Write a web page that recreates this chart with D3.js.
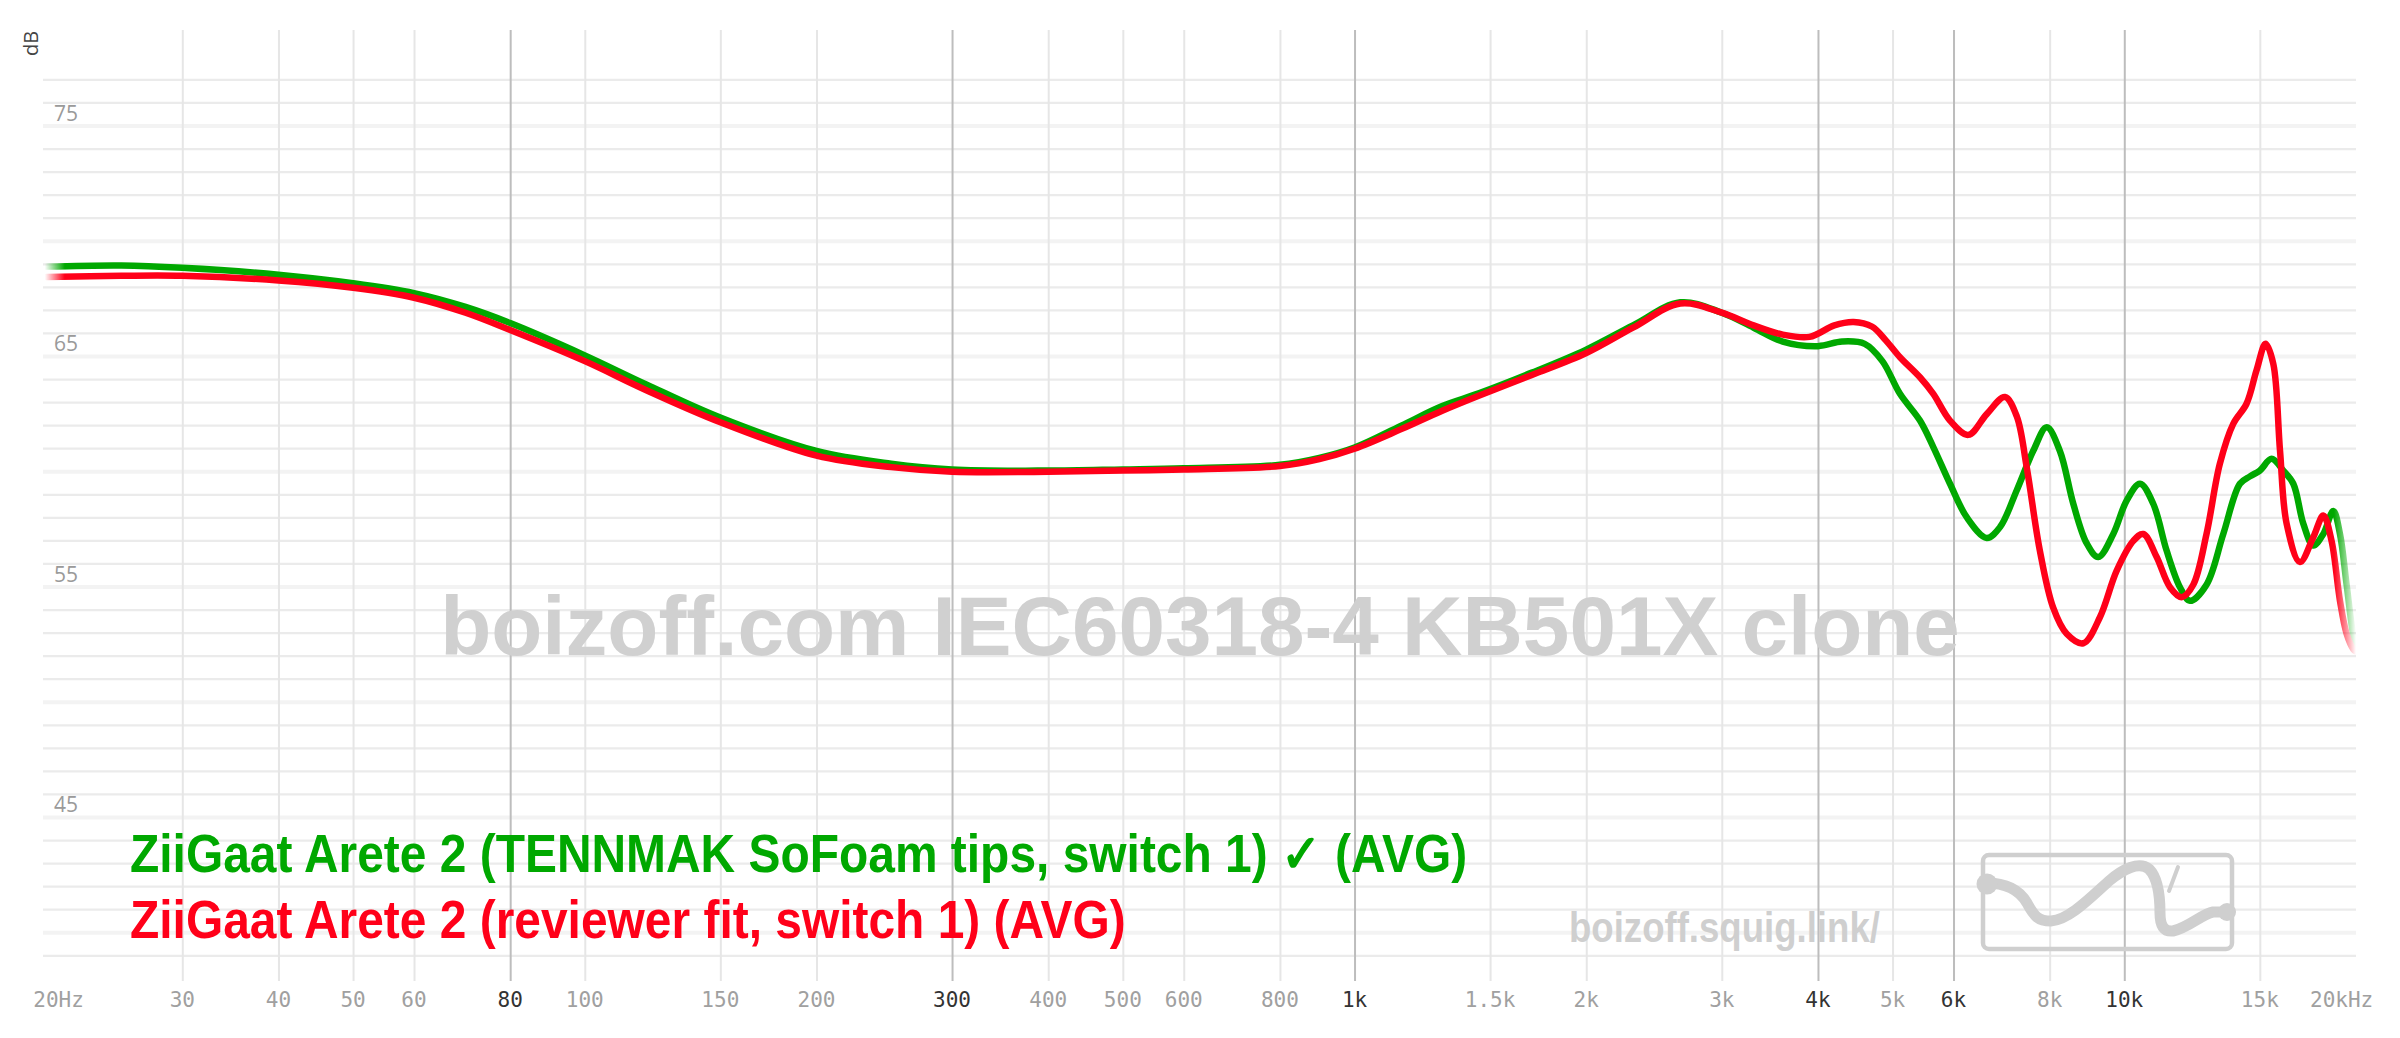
<!DOCTYPE html>
<html><head><meta charset="utf-8">
<script src="https://cdn.jsdelivr.net/npm/d3@7"></script>
<style>html,body{margin:0;padding:0;background:#fff;overflow:hidden}svg{display:block}</style>
</head><body>
<svg id="chart" width="2400" height="1038"></svg>
<script>
// ---------- data ----------
const seriesNames = [
  "ZiiGaat Arete 2 (TENNMAK SoFoam tips, switch 1) \u2713 (AVG)",
  "ZiiGaat Arete 2 (reviewer fit, switch 1) (AVG)"
];
const seriesColors = ["#00a800", "#ff0019"];

const freqGreen = [20,25,30,40,50,60,70,80,100,120,150,200,250,300,400,500,600,800,900,1000,1150,1300,1450,1700,2000,2300,2650,3000,3300,3600,4000,4300,4600,4850,5112,5427,5648,5937,6241,6627,6896,7250,7619,7930,8248,8587,8935,9251,9676,10071,10481,10908,11350,11813,12171,12789,13446,14132,14563,15000,15536,16090,16580,17083,17602,18137,18686,19064,19447,19841,20000];
const dbGreen = [68.9,68.95,68.85,68.55,68.18,67.75,67.15,66.45,65.05,63.8,62.35,60.9,60.35,60.1,60.05,60.1,60.15,60.3,60.6,61.05,62.0,62.85,63.4,64.3,65.3,66.35,67.35,66.9,66.25,65.65,65.45,65.65,65.55,64.8,63.38,62.22,61.07,59.48,58.03,57.13,57.6,59.2,60.92,61.93,60.9,58.6,56.9,56.3,57.3,58.75,59.48,58.6,56.58,54.99,54.4,55.1,57.3,59.48,59.8,60.05,60.56,60.05,59.48,57.75,56.8,57.3,58.3,57.3,55.1,52.9,52.5];

const freqRed = [20,25,30,40,50,60,70,80,100,120,150,200,250,300,400,500,600,800,900,1000,1150,1300,1450,1700,2000,2300,2650,3000,3300,3600,3900,4200,4450,4700,4900,5112,5427,5648,5937,6271,6627,6998,7250,7468,7768,8084,8417,8846,9300,9773,10274,10586,11017,11465,11873,12291,12789,13308,13852,14415,14853,15260,15617,15933,16254,16915,17602,18137,18592,19064,19447,19841,20000];
const dbRed = [68.45,68.5,68.5,68.3,67.98,67.55,66.9,66.15,64.8,63.55,62.15,60.7,60.2,60.0,60.0,60.05,60.1,60.25,60.55,61.0,61.85,62.65,63.3,64.2,65.15,66.25,67.3,66.9,66.35,65.95,65.85,66.35,66.5,66.3,65.7,64.97,64.1,63.38,62.22,61.6,62.5,63.24,62.4,60.2,56.58,54.1,52.97,52.56,53.7,55.7,57.0,57.3,56.3,54.99,54.56,55.1,57.3,60.34,62.08,62.95,64.4,65.55,64.68,60.92,57.74,56.08,57.16,58.1,57.0,54.4,52.97,52.3,52.2];

const xTicks = [20,30,40,50,60,80,100,150,200,300,400,500,600,800,1000,1500,2000,3000,4000,5000,6000,8000,10000,15000,20000];
const xTickLabels = ["20Hz","30","40","50","60","80","100","150","200","300","400","500","600","800","1k","1.5k","2k","3k","4k","5k","6k","8k","10k","15k","20kHz"];
const darkTicks = [80,300,1000,4000,6000,10000];
const yTickLabels = [75,65,55,45];
const yDomain = [39,77];
const watermark = "boizoff.com IEC60318-4 KB501X clone";
const siteLabel = "boizoff.squig.link/";

// ---------- layout ----------
const svg = d3.select("#chart");
const x = d3.scaleLog().domain([20,20000]).range([46.75,2356]);
const y = d3.scaleLinear().domain(yDomain).range([955.8,79.9]);
const gridLeft = 43, gridRight = 2356;

// horizontal grid
svg.append("g").selectAll("line").data(d3.range(yDomain[0], yDomain[1]+1)).join("line")
  .attr("x1", gridLeft).attr("x2", gridRight)
  .attr("y1", d=>y(d)).attr("y2", d=>y(d))
  .attr("stroke", d=> d%5===0 ? "#f3f3f3" : "#ebebeb")
  .attr("stroke-width", d=> d%5===0 ? 4 : 2.2);

// vertical grid via axis
const xAxis = d3.axisBottom(x).tickValues(xTicks.slice(1,-1)).tickSize(951).tickFormat("");
const xg = svg.append("g").attr("transform","translate(0,30)").call(xAxis);
xg.select(".domain").remove();
xg.selectAll(".tick line")
  .attr("stroke", d=> darkTicks.includes(d) ? "#bdbdbd" : "#e6e6e6")
  .attr("stroke-width", 2);

// x tick labels
const xl = svg.append("g").attr("font-family","'DejaVu Sans Mono', monospace").attr("font-size",21);
xl.selectAll("text").data(xTicks).join("text")
  .attr("x", (d,i)=> i===0 ? x(d)-13.5 : (i===xTicks.length-1 ? x(d)-46 : x(d)))
  .attr("y", 1007)
  .attr("text-anchor", (d,i)=> (i===0||i===xTicks.length-1) ? "start" : "middle")
  .attr("fill", d=> darkTicks.includes(d) ? "#333" : "#a0a0a0")
  .text((d,i)=>xTickLabels[i]);

// y tick labels
svg.append("g").selectAll("text").data(yTickLabels).join("text")
  .attr("x", 54).attr("y", d=>y(d)-5.5)
  .attr("font-family","'Open Sans', 'Noto Sans', sans-serif").attr("font-size",21)
  .attr("fill","#9a9a9a").text(d=>d);

svg.append("text").attr("transform","translate(38,43.5) rotate(-90)")
  .attr("text-anchor","middle").attr("font-family","'Open Sans', sans-serif")
  .attr("font-size",20).attr("fill","#444").text("dB");

// watermark
const wm = svg.append("text").attr("x",1200).attr("y",655).attr("text-anchor","middle")
  .attr("font-family","'Liberation Sans', Arial, sans-serif").attr("font-weight","bold")
  .attr("font-size",82).attr("fill","#d0d0d0").text(watermark);
{ const w = wm.node().getComputedTextLength(); wm.attr("font-size", 82*1520/w); }

// condensed text: scale horizontally so the natural text fits a target width
function condensedScale(node, targetW){ return targetW / node.getComputedTextLength(); }

const sl = svg.append("text")
  .attr("font-family","'Liberation Sans', Arial, sans-serif").attr("font-weight","bold")
  .attr("font-size",42).attr("fill","#cfcfcf").text(siteLabel);
{ const s = condensedScale(sl.node(), 311);
  sl.attr("transform",`translate(1569,942) scale(${s},1)`); }

// logo (decorative)
const logo = svg.append("g").attr("transform","translate(1981,853)");
logo.append("rect").attr("x",2).attr("y",2).attr("width",249).attr("height",94).attr("rx",6)
  .attr("fill","none").attr("stroke","#cfcfcf").attr("stroke-width",4.5);
logo.append("path")
  .attr("d","M5,30 C24,30 38,36 46,50 C53,63 57,68 70,68 C88,67 110,44 128,28 C142,16 158,8 168,16 C176,24 179,42 179,60 C179,73 183,79 192,78 C207,75 221,61 232,59 L246,59")
  .attr("fill","none").attr("stroke","#cfcfcf").attr("stroke-width",11).attr("stroke-linecap","round");
logo.append("circle").attr("cx",6).attr("cy",31).attr("r",10.5).attr("fill","#cfcfcf");
logo.append("circle").attr("cx",246).attr("cy",59).attr("r",9).attr("fill","#cfcfcf");
logo.append("path").attr("d","M188,38 L197,14").attr("stroke","#cfcfcf").attr("stroke-width",4).attr("stroke-linecap","round");

// fade mask for curves
const defs = svg.append("defs");
const lg = defs.append("linearGradient").attr("id","fade").attr("gradientUnits","userSpaceOnUse")
  .attr("x1",x(20)-2).attr("x2",x(20000)).attr("y1",0).attr("y2",0);
const span = x(20000)-(x(20)-2);
lg.append("stop").attr("offset",0).attr("stop-color","#fff").attr("stop-opacity",0);
lg.append("stop").attr("offset",20/span).attr("stop-color","#fff").attr("stop-opacity",1);
lg.append("stop").attr("offset",1-22/span).attr("stop-color","#fff").attr("stop-opacity",1);
lg.append("stop").attr("offset",1).attr("stop-color","#fff").attr("stop-opacity",0);
defs.append("mask").attr("id","m").attr("maskUnits","userSpaceOnUse")
  .attr("x",0).attr("y",0).attr("width",2400).attr("height",1038)
  .append("rect").attr("x",0).attr("y",0).attr("width",2400).attr("height",1038).attr("fill","url(#fade)");

const line = d3.line().x(d=>x(d[0])).y(d=>y(d[1])).curve(d3.curveCatmullRom.alpha(0.5));
const series = [ d3.zip(freqGreen, dbGreen), d3.zip(freqRed, dbRed) ];
svg.append("g").attr("mask","url(#m)").selectAll("path").data(series).join("path")
  .attr("d", line).attr("fill","none")
  .attr("stroke",(d,i)=>seriesColors[i]).attr("stroke-width",6.5)
  .attr("stroke-linejoin","round").attr("stroke-linecap","round");

// legend
const legendY = [872, 938];
const legendTexts = svg.append("g").selectAll("text").data(seriesNames).join("text")
  .attr("font-family","'Liberation Sans', Arial, sans-serif").attr("font-weight","bold")
  .attr("font-size",53).attr("fill",(d,i)=>seriesColors[i]).text(d=>d);
{
  const s = condensedScale(legendTexts.nodes()[1], 996);
  legendTexts.attr("transform",(d,i)=>`translate(130,${legendY[i]}) scale(${s},1)`);
}
</script>
</body></html>
